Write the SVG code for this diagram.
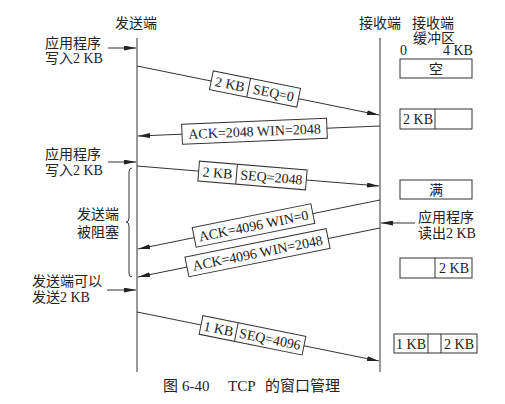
<svg xmlns="http://www.w3.org/2000/svg" width="505" height="404" viewBox="0 0 505 404">
<style>
text{font-family:"Liberation Serif","Noto Sans CJK SC",serif;font-size:14px;fill:#222}
.c{text-anchor:middle}
.ln{stroke:#333;stroke-width:1;fill:none}
.bx{fill:#fff;stroke:#333;stroke-width:1}
.cap{font-size:15px}
</style>
<defs>
<marker id="ah" markerUnits="userSpaceOnUse" markerWidth="12" markerHeight="5" refX="12" refY="2.5" orient="auto">
<path d="M0,0 L12,2.5 L0,5 z" fill="#222"/>
</marker>
</defs>
<rect width="505" height="404" fill="#fff"/>

<g id="sender">
<text class="c" x="136" y="28">发送端</text>
<line class="ln" x1="137" y1="38" x2="137" y2="372"/>
</g>
<g id="receiver">
<text class="c" x="380" y="28">接收端</text>
<line class="ln" x1="380" y1="38" x2="380" y2="372"/>
</g>
<g id="buffer-header">
<text class="c" x="433" y="28">接收端</text>
<text class="c" x="434" y="43">缓冲区</text>
<text x="400" y="55">0</text>
<text x="443" y="55">4 KB</text>
</g>
<g id="buf-empty">
<rect class="bx" x="400" y="59" width="72" height="19"/>
<text class="c" x="436" y="74">空</text>
</g>
<g id="buf-2kb">
<rect class="bx" x="400" y="109" width="72" height="20"/>
<line class="ln" x1="435" y1="109" x2="435" y2="129"/>
<text class="c" x="418" y="124">2 KB</text>
</g>
<g id="buf-full">
<rect class="bx" x="400" y="180" width="72" height="19"/>
<text class="c" x="436" y="195">满</text>
</g>
<g id="buf-read">
<rect class="bx" x="400" y="258" width="72" height="20"/>
<line class="ln" x1="435" y1="258" x2="435" y2="278"/>
<text class="c" x="454" y="273">2 KB</text>
</g>
<g id="buf-final">
<rect class="bx" x="394" y="334" width="83" height="19"/>
<line class="ln" x1="428" y1="334" x2="428" y2="353"/>
<line class="ln" x1="441" y1="334" x2="441" y2="353"/>
<text class="c" x="411" y="349">1 KB</text>
<text class="c" x="459" y="349">2 KB</text>
</g>

<g id="app-write-1">
<text x="45" y="48">应用程序</text>
<text x="45" y="63">写入2 KB</text>
</g>
<g id="app-write-2">
<text x="45" y="159">应用程序</text>
<text x="45" y="175">写入2 KB</text>
</g>
<g id="blocked">
<path class="ln" d="M132,168 Q129,168 129,172 L129,218 Q129,222 126,222 Q129,222 129,226 L129,273 Q129,277 132,277"/>
<text class="c" x="98" y="219">发送端</text>
<text class="c" x="98" y="237">被阻塞</text>
</g>
<g id="can-send">
<text x="32" y="286">发送端可以</text>
<text x="32" y="302">发送2 KB</text>
</g>
<g id="app-read">
<text x="418" y="222">应用程序</text>
<text x="418" y="238">读出2 KB</text>
</g>

<g id="connectors">
<line class="ln" x1="108" y1="48" x2="136" y2="48" marker-end="url(#ah)"/>
<line class="ln" x1="108" y1="162" x2="136" y2="162" marker-end="url(#ah)"/>
<line class="ln" x1="107" y1="290" x2="136" y2="290" marker-end="url(#ah)"/>
<line class="ln" x1="415" y1="223" x2="381" y2="223" marker-end="url(#ah)"/>

<line class="ln" x1="137" y1="66" x2="379" y2="115" marker-end="url(#ah)"/>
<line class="ln" x1="380" y1="126" x2="138" y2="136" marker-end="url(#ah)"/>
<line class="ln" x1="137" y1="166" x2="379" y2="186" marker-end="url(#ah)"/>
<line class="ln" x1="380" y1="200" x2="138" y2="249" marker-end="url(#ah)"/>
<line class="ln" x1="380" y1="228" x2="138" y2="277" marker-end="url(#ah)"/>
<line class="ln" x1="137" y1="312" x2="379" y2="361" marker-end="url(#ah)"/>

<g transform="translate(255,89) rotate(11.4)">
<rect class="bx" x="-44.5" y="-9.5" width="89" height="19"/>
<line class="ln" x1="-6.5" y1="-9.5" x2="-6.5" y2="9.5"/>
<text class="c" x="-25.5" y="5">2 KB</text>
<text class="c" x="19" y="5">SEQ=0</text>
</g>
<g transform="translate(254.5,131.2) rotate(-2.36)">
<rect class="bx" x="-72.5" y="-10" width="145" height="20"/>
<text class="c" x="0" y="5">ACK=2048 WIN=2048</text>
</g>
<g transform="translate(252.5,175.5) rotate(4.7)">
<rect class="bx" x="-54" y="-10" width="108" height="20"/>
<line class="ln" x1="-16" y1="-10" x2="-16" y2="10"/>
<text class="c" x="-35" y="5">2 KB</text>
<text class="c" x="19" y="5">SEQ=2048</text>
</g>
<g transform="translate(253.5,225.5) rotate(-11.4)">
<rect class="bx" x="-60.5" y="-10" width="121" height="20"/>
<text class="c" x="0" y="5">ACK=4096 WIN=0</text>
</g>
<g transform="translate(257.5,252.7) rotate(-11.4)">
<rect class="bx" x="-72" y="-10" width="144" height="20"/>
<text class="c" x="0" y="5">ACK=4096 WIN=2048</text>
</g>
<g transform="translate(252.5,335.3) rotate(11.4)">
<rect class="bx" x="-52.5" y="-9.5" width="105" height="19"/>
<line class="ln" x1="-16.5" y1="-9.5" x2="-16.5" y2="9.5"/>
<text class="c" x="-34.5" y="5">1 KB</text>
<text class="c" x="18" y="5">SEQ=4096</text>
</g>
</g>

<g id="caption">
<text class="cap" x="163" y="391">图</text>
<text class="cap" x="182" y="391">6-40</text>
<text class="cap" x="228" y="391">TCP</text>
<text class="cap" x="265" y="391">的窗口管理</text>
</g>
</svg>
